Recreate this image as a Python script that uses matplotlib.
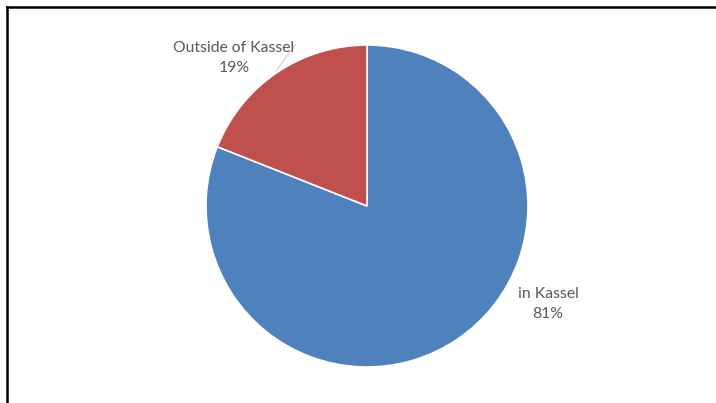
import matplotlib
matplotlib.use("Agg")
import matplotlib.pyplot as plt
import numpy as np
from matplotlib.lines import Line2D

categories = ["in Kassel", "Outside of Kassel"]
values = [81, 19]
colors = ["#4F81BD", "#C0504D"]

W, H = 716, 403
fig = plt.figure(figsize=(W / 100, H / 100), dpi=100)
ax = fig.add_axes([0, 0, 1, 1])
ax.set_xlim(0, W)
ax.set_ylim(0, H)
ax.set_aspect("equal")
ax.axis("off")

cx, cy, r = 367, H - 206, 161
wedges, _ = ax.pie(values, colors=colors, startangle=90, counterclock=False,
                   center=(cx, cy), radius=r,
                   wedgeprops=dict(edgecolor="white", linewidth=1.2))
ax.set_xlim(0, W)
ax.set_ylim(0, H)
ax.axis("off")

total = sum(values)
pct = [f"{round(v / total * 100)}%" for v in values]
font = dict(family=["Lato", "DejaVu Sans"], fontsize=11.3, color="#595959",
            ha="center", va="center", linespacing=1.6)

# label positions (pixels, y from top)
label_pos = [(548, 304), (234, 58)]
for cat, p, (lx, ly) in zip(categories, pct, label_pos):
    ax.text(lx, H - ly, f"{cat}\n{p}", **font)

# leader line for the small slice
w = wedges[1]
mid = np.deg2rad((w.theta1 + w.theta2) / 2)
tx, ty = cx + r * 1.01 * np.cos(mid), cy + r * 1.01 * np.sin(mid)
ax.plot([296, tx], [H - 44, ty], color="#D0D0D0", linewidth=0.8)

# frame lines (top and left)
fig.add_artist(Line2D([7.5 / W, 1.0], [1 - 6.5 / H, 1 - 6.5 / H], color="black", linewidth=1.8,
                      transform=fig.transFigure))
fig.add_artist(Line2D([7.5 / W, 7.5 / W], [0, 1 - 6.5 / H], color="black", linewidth=1.8,
                      transform=fig.transFigure))

fig.savefig("out.png", dpi=100)
